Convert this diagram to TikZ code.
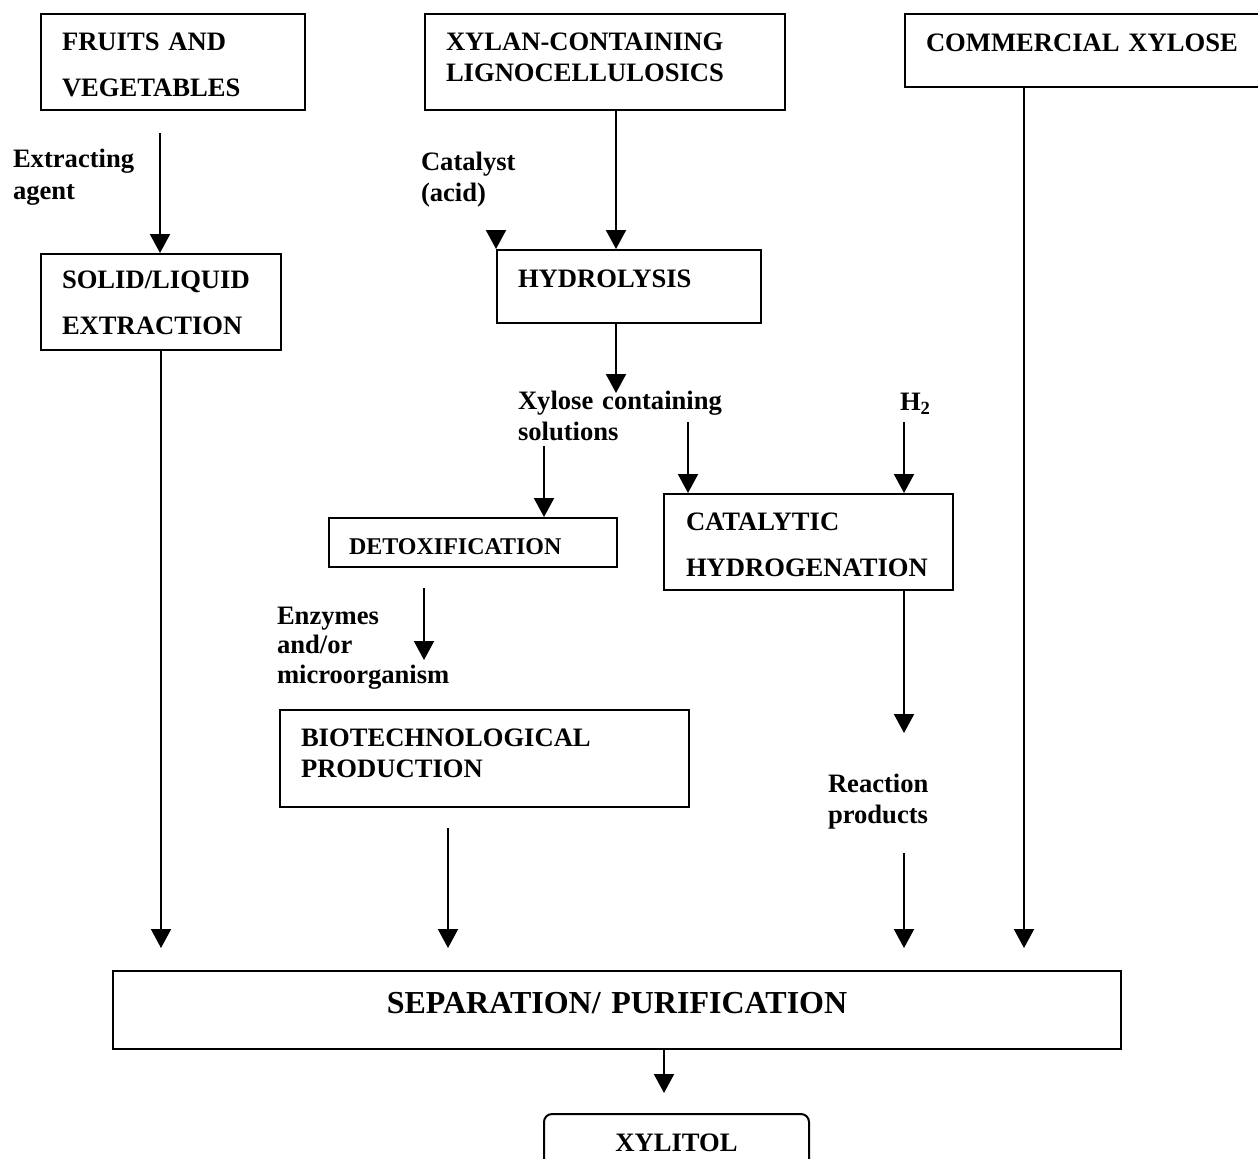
\documentclass[tikz,border=0pt]{standalone}
\usepackage{fontspec}
\setmainfont{Liberation Serif}
\usetikzlibrary{arrows.meta}

\begin{document}
\begin{tikzpicture}[
        x = 0.5pt, y = -0.5pt, % one unit = one pixel, y going down
        > = {Triangle[length=9.5pt, width=10pt]}, % arrow head style
        line width = 1pt, % line style
        font = \bfseries\fontsize{13.3}{15.5}\selectfont
    ]

    \tikzstyle{box}=[
        draw = black,
        rectangle,
        anchor = north west,
        inner xsep = 10.5pt,
        inner ysep = 0pt,
        align = left,
        text height = 9pt
    ]
    \tikzstyle{wide}=[font = \bfseries\fontsize{13.3}{23}\selectfont]
    \tikzstyle{note}=[anchor = base west, inner sep = 0pt, text width = 200pt, align = left]

    \path[use as bounding box, clip] (0,0) rectangle (1258,1158);

    % raw materials
    \node[box, wide, text width=111pt, minimum height=48pt, text depth=21pt] (fruit) at (40,13) {FRUITS AND\\VEGETABLES};
    \node[box, text width=159pt, minimum height=48pt, text depth=21pt] (xylan) at (424,13) {XYLAN-CONTAINING\\LIGNOCELLULOSICS};
    \node[box, text width=158pt, minimum height=36.5pt, text depth=8.5pt] (com) at (904,13) {COMMERCIAL XYLOSE};

    % processes
    \node[box, wide, text width=99pt, minimum height=48pt, text depth=23pt] (solid) at (40,253) {SOLID/LIQUID\\EXTRACTION};
    \node[box, text width=111pt, minimum height=36.5pt, text depth=8.5pt] (hydro) at (496,249) {HYDROLYSIS};
    \node[box, font=\bfseries\fontsize{12}{14}\selectfont, inner xsep=10pt, text width=124pt, minimum height=24.5pt,
          text height=12pt, text depth=0.5pt] (detox) at (328,517) {DETOXIFICATION};
    \node[box, wide, inner xsep=11pt, text width=122.5pt, minimum height=48pt, text depth=21pt] (cat) at (663,493) {CATALYTIC\\HYDROGENATION};
    \node[box, text width=183.5pt, minimum height=48.5pt, text depth=21.5pt] (bio) at (279,709) {BIOTECHNOLOGICAL\\PRODUCTION};
    \node[box, align=center, font=\bfseries\fontsize{16}{19}\selectfont, text width=483pt, minimum height=39pt,
          text depth=6pt] (sep) at (112,970) {SEPARATION/ PURIFICATION};
    \node[box, align=center, rounded corners=4pt, text width=111.5pt, minimum height=30pt, text depth=2pt] (xyl) at (543,1113) {XYLITOL};

    % side labels
    \node[note, font=\bfseries\fontsize{13.3}{16}\selectfont] (extract) at (12,167) {Extracting\\agent};
    \node[note] (acid) at (420,170) {Catalyst\\(acid)};
    \node[note] (xsol) at (517,409) {Xylose containing\\solutions};
    \node[note] (hgas) at (899,410) {H\textsubscript{2}};
    \node[note, font=\bfseries\fontsize{13.3}{14.8}\selectfont] (enz) at (276,624) {Enzymes\\and/or\\microorganism};
    \node[note] (rprod) at (827,792) {Reaction\\products};

    % free arrow ends
    \coordinate (ex-in) at (160,133);
    \coordinate (cat-in) at (496,230);
    \coordinate (xs-in) at (616,393);
    \coordinate (xs-l) at (544,446);
    \coordinate (xs-r) at (688,422);
    \coordinate (h2-in) at (904,422);
    \coordinate (rp-in) at (904,733);
    \coordinate (rp-out) at (904,853);
    \coordinate (enz-a) at (424,588);
    \coordinate (enz-b) at (424,660);
    \coordinate (bio-out) at (448,828);
    \coordinate (com-x) at (1024,0);
    \coordinate (sep-in) at (0,948);
    \coordinate (xyl-in) at (664,1093);

    \draw[->] (ex-in) -- (ex-in |- solid.north);
    \draw[->] (xs-in |- xylan.south) -- (xs-in |- hydro.north);
    \draw[->] (cat-in) -- (hydro.north west);
    \draw[->] (xs-in |- hydro.south) -- (xs-in);
    \draw[->] (xs-l) -- (xs-l |- detox.north);
    \draw[->] (xs-r) -- (xs-r |- cat.north);
    \draw[->] (h2-in) -- (h2-in |- cat.north);
    \draw[->] (rp-in |- cat.south) -- (rp-in);
    \draw[->] (enz-a) -- (enz-b);

    \draw[->] (solid.south) -- (solid.south |- sep-in);
    \draw[->] (bio-out) -- (bio-out |- sep-in);
    \draw[->] (rp-out) -- (rp-out |- sep-in);
    \draw[->] (com-x |- com.south) -- (com-x |- sep-in);
    \draw[->] (xyl-in |- sep.south) -- (xyl-in);
\end{tikzpicture}
\end{document}
